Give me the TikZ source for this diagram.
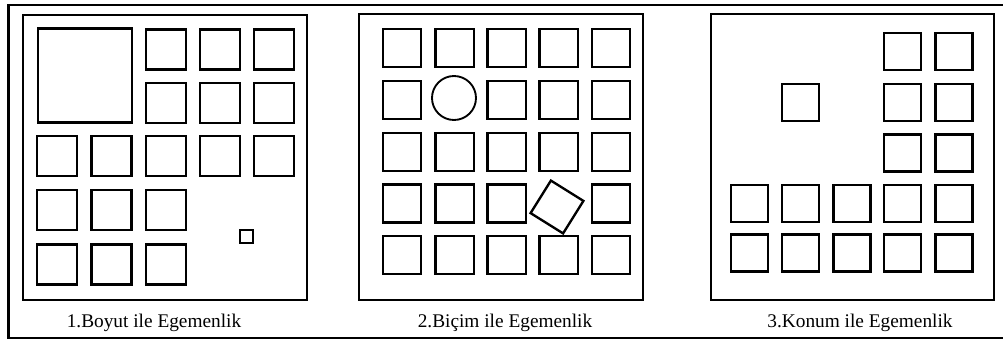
\documentclass[tikz,border=0pt]{standalone}
\usepackage{fontspec}
\setmainfont{Liberation Serif}
\usetikzlibrary{positioning}

\begin{document}
\begin{tikzpicture}[x=0.03cm, y=-0.03cm,
  outerline/.style={line width=1.8pt},
  panel/.style={line width=2.3pt},
  box/.style={draw, line width=2pt, minimum size=1.2cm, inner sep=0pt},
  smallbox/.style={box, minimum size=1.15cm},
  tinybox/.style={draw, line width=1.6pt, minimum size=0.39cm, inner sep=0pt},
  roundbox/.style={draw, circle, line width=1.6pt, minimum size=1.32cm, inner sep=0pt},
  caption/.style={font=\fontsize{16.5}{19}\selectfont, inner sep=0pt}
]
\useasboundingbox (0,0) rectangle (1003,341);

% outer frame (runs off the right edge)
\draw[outerline] (1003,5) -- (8.5,5) -- (8.5,338) -- (1003,338);

% 1. size
\draw[panel] (23,15) rectangle (307,300);
\node[box, minimum size=2.82cm] (big) at (85,75.5) {};
\foreach \r/\y in {1/49.5,2/103}
  \foreach \c/\x in {3/166,4/220,5/274}
    \node[box] (a\r\c) at (\x,\y) {};
\foreach \c/\x in {1/57,2/111.5,3/166,4/220,5/274}
  \node[box] (a3\c) at (\x,156) {};
\foreach \r/\y in {4/210,5/264.5}
  \foreach \c/\x in {1/57,2/111.5,3/166}
    \node[box] (a\r\c) at (\x,\y) {};
\node[tinybox] (tiny) at (246.5,236.5) {};
\node[caption] (capa) at (154,323) {1.Boyut ile Egemenlik};

% 2. shape
\draw[panel] (359,14) rectangle (643,300);
\foreach \r/\y in {1/48,2/100,3/152,4/203.5,5/255}
  \foreach \c/\x in {1/402,2/454.5,3/506.5,4/558.5,5/611}{
    \ifnum\r\c=22 \else\ifnum\r\c=44 \else
      \node[smallbox] (b\r\c) at (\x,\y) {};
    \fi\fi
  }
\node[roundbox] (ring) at (454,98) {};
\node[smallbox, rotate=-32] (tilt) at (557,207) {};
\node[caption] (capb) at (505,323) {2.Biçim ile Egemenlik};

% 3. position
\draw[panel] (711,14) rectangle (994,300);
\foreach \r/\y in {1/51.5,2/102.5,3/153}
  \foreach \c/\x in {4/902.5,5/954}
    \node[box, minimum size=1.11cm] (c\r\c) at (\x,\y) {};
\node[box, minimum size=1.11cm] (lone) at (800.5,102.5) {};
\foreach \r/\y in {4/203.5,5/253}
  \foreach \c/\x in {1/749.5,2/800.5,3/852,4/902.5,5/954}
    \node[box, minimum size=1.11cm] (c\r\c) at (\x,\y) {};
\node[caption] (capc) at (860,323) {3.Konum ile Egemenlik};
\end{tikzpicture}
\end{document}
